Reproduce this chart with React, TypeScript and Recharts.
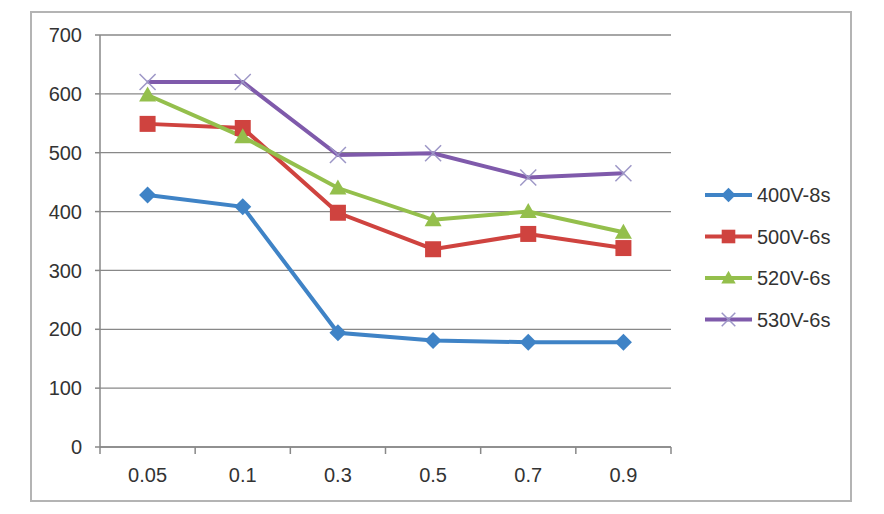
import React from 'react';
import { LineChart, Line, XAxis, YAxis, CartesianGrid, Legend } from 'recharts';

const categories = ['0.05', '0.1', '0.3', '0.5', '0.7', '0.9'];
const s400 = [428, 408, 194, 181, 178, 178];
const s500 = [549, 542, 398, 336, 362, 338];
const s520 = [598, 527, 440, 386, 400, 365];
const s530 = [620, 620, 496, 499, 458, 465];
const seriesNames = ['400V-8s', '500V-6s', '520V-6s', '530V-6s'];
const seriesKeys = ['s400', 's500', 's520', 's530'];
const seriesColors = ['#3F83C6', '#CF433F', '#94BF4C', '#7F5AAB'];
const yTicks = [0, 100, 200, 300, 400, 500, 600, 700];

const data = categories.map((c, i) => ({
  cat: c,
  s400: s400[i],
  s500: s500[i],
  s520: s520[i],
  s530: s530[i],
}));

const W = 884;
const H = 514;
const MARGIN = { top: 35, left: 30, right: 213, bottom: 37 };
const Y_AXIS_W = 70;
const X_AXIS_H = 30;
const PLOT_LEFT = MARGIN.left + Y_AXIS_W;
const PLOT_RIGHT = W - MARGIN.right;
const BAND = (PLOT_RIGHT - PLOT_LEFT) / categories.length;
const TICK_SIZE = 5;
const X_TICK_MARGIN = 16;
const AXIS_COLOR = '#888888';
const FONT = '"Liberation Sans", Arial, sans-serif';
const TEXT_COLOR = '#333333';

function Marker({ kind, cx, cy, color, s = 1 }: { kind: number; cx: number; cy: number; color: string; s?: number }) {
  if (kind === 0) {
    const r = 8.5 * s;
    return <polygon points={`${cx},${cy - r} ${cx + r},${cy} ${cx},${cy + r} ${cx - r},${cy}`} fill={color} />;
  }
  if (kind === 1) {
    const r = 8 * s;
    return <rect x={cx - r} y={cy - r} width={2 * r} height={2 * r} fill={color} />;
  }
  if (kind === 2) {
    const w = 8.5 * s;
    return <polygon points={`${cx},${cy - 8.5 * s} ${cx + w},${cy + 6.5 * s} ${cx - w},${cy + 6.5 * s}`} fill={color} />;
  }
  const r = 8 * s;
  return (
    <g stroke="#9C96C6" strokeWidth={1.5}>
      <line x1={cx - r} y1={cy - r} x2={cx + r} y2={cy + r} />
      <line x1={cx - r} y1={cy + r} x2={cx + r} y2={cy - r} />
    </g>
  );
}

function makeDot(kind: number, color: string) {
  return (props: any) => {
    const { cx, cy, index } = props;
    if (cx == null || cy == null) return <g key={index} />;
    return (
      <g key={`${kind}-${index}`}>
        <Marker kind={kind} cx={cx} cy={cy} color={color} />
      </g>
    );
  };
}

function XTick(props: any) {
  const { x, y, payload, index } = props;
  const axisY = y - TICK_SIZE - X_TICK_MARGIN;
  const isLast = index === categories.length - 1;
  return (
    <g>
      <line x1={x - BAND / 2} y1={axisY} x2={x - BAND / 2} y2={axisY + TICK_SIZE + 2} stroke={AXIS_COLOR} strokeWidth={1.5} />
      {isLast && (
        <line x1={x + BAND / 2} y1={axisY} x2={x + BAND / 2} y2={axisY + TICK_SIZE + 2} stroke={AXIS_COLOR} strokeWidth={1.5} />
      )}
      <text x={x} y={y} dy="0.71em" textAnchor="middle" fontSize={20} fontFamily={FONT} fill={TEXT_COLOR}>
        {payload.value}
      </text>
    </g>
  );
}

function LegendContent() {
  return (
    <svg width={160} height={170}>
      {seriesNames.map((name, i) => {
        const cy = 20 + i * 41.5;
        return (
          <g key={name}>
            <line x1={5} y1={cy} x2={52} y2={cy} stroke={seriesColors[i]} strokeWidth={4} />
            <Marker kind={i} cx={28.5} cy={cy} color={seriesColors[i]} s={0.85} />
            <text x={57} y={cy} dy="0.36em" fontSize={20} fontFamily={FONT} fill={TEXT_COLOR}>
              {name}
            </text>
          </g>
        );
      })}
    </svg>
  );
}

export default function App() {
  return (
    <div style={{ position: 'absolute', left: 0, top: 0, width: W, height: H, background: '#ffffff' }}>
      <div
        style={{
          position: 'absolute',
          left: 30,
          top: 11,
          width: 822,
          height: 491,
          border: '2px solid #b4b4b4',
          boxSizing: 'border-box',
        }}
      />
      <div style={{ position: 'absolute', left: 0, top: 0 }}>
        <LineChart width={W} height={H} data={data} margin={MARGIN}>
          <CartesianGrid vertical={false} stroke={AXIS_COLOR} strokeWidth={1.3} />
          <XAxis
            dataKey="cat"
            height={X_AXIS_H}
            padding={{ left: BAND / 2, right: BAND / 2 }}
            tickLine={false}
            tickSize={TICK_SIZE}
            tickMargin={X_TICK_MARGIN}
            axisLine={{ stroke: AXIS_COLOR, strokeWidth: 1.5 }}
            tick={<XTick />}
            interval={0}
          />
          <YAxis
            width={Y_AXIS_W}
            domain={[0, 700]}
            ticks={yTicks}
            interval={0}
            tickSize={TICK_SIZE}
            tickMargin={13}
            tickLine={{ stroke: AXIS_COLOR, strokeWidth: 1.5 }}
            axisLine={{ stroke: AXIS_COLOR, strokeWidth: 1.5 }}
            tick={{ fontSize: 20, fontFamily: FONT, fill: TEXT_COLOR }}
          />
          <Legend
            layout="vertical"
            align="center"
            verticalAlign="middle"
            wrapperStyle={{ left: 700, top: 175, width: 160 }}
            content={<LegendContent />}
          />
          {seriesKeys.map((k, i) => (
            <Line
              key={k}
              type="linear"
              dataKey={k}
              name={seriesNames[i]}
              stroke={seriesColors[i]}
              strokeWidth={4}
              dot={makeDot(i, seriesColors[i])}
              activeDot={false}
              isAnimationActive={false}
            />
          ))}
        </LineChart>
      </div>
    </div>
  );
}
